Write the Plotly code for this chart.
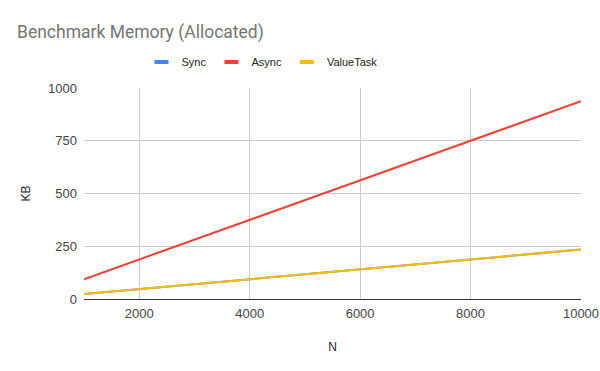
import plotly.graph_objects as go

n_values = [1000, 2000, 3000, 4000, 5000, 6000, 7000, 8000, 9000, 10000]
sync_kb = [23.44, 46.88, 70.31, 93.75, 117.19, 140.63, 164.06, 187.5, 210.94, 234.38]
async_kb = [93.75, 187.5, 281.25, 375.0, 468.75, 562.5, 656.25, 750.0, 843.75, 937.5]
valuetask_kb = [23.44, 46.88, 70.31, 93.75, 117.19, 140.63, 164.06, 187.5, 210.94, 234.38]
x_ticks = [2000, 4000, 6000, 8000, 10000]
x_tick_labels = ["2000", "4000", "6000", "8000", "10000"]
y_ticks = [0, 250, 500, 750, 1000]

series = [("Sync", sync_kb, "#4285F4"), ("Async", async_kb, "#EA4335"), ("ValueTask", valuetask_kb, "#FBBC04")]

fig = go.Figure()
for name, vals, col in series:
    fig.add_trace(go.Scatter(x=n_values, y=vals, mode="lines", name=name,
                             line=dict(color=col, width=2), showlegend=False))
for name, vals, col in series:
    fig.add_trace(go.Scatter(x=[None], y=[None], mode="markers", name=name,
                             marker=dict(symbol="line-ew", size=10, color=col,
                                         line=dict(color=col, width=4)),
                             showlegend=True))

fig.update_layout(
    width=600, height=371,
    margin=dict(l=84, r=19, t=88, b=72),
    paper_bgcolor="white", plot_bgcolor="white",
    title=dict(text="Benchmark Memory (Allocated)", x=17/600, xanchor="left",
               y=1 - 32/371, yanchor="middle",
               font=dict(family="Roboto", size=17.5, color="#757575")),
    legend=dict(orientation="h", x=(262 - 84) / 497, xanchor="center", y=1 + 26/211, yanchor="middle",
                font=dict(family="Liberation Sans", size=11, color="#222222"),
                itemwidth=30, tracegroupgap=0),
    font=dict(family="Liberation Sans", size=13, color="#444444"),
    xaxis=dict(range=[1000, 10000], tickvals=x_ticks, ticktext=x_tick_labels,
               showgrid=True, gridcolor="#cccccc", gridwidth=1, zeroline=False,
               showline=False, ticks="", ticklabelstandoff=5, automargin=False,
               tickfont=dict(family="Liberation Sans", size=13, color="#444444"),
               title=dict(text="N", font=dict(family="Liberation Sans", size=12, color="#222222"), standoff=22)),
    yaxis=dict(range=[0, 1000], tickvals=y_ticks,
               showgrid=True, gridcolor="#cccccc", gridwidth=1,
               zeroline=True, zerolinecolor="#333333", zerolinewidth=1,
               showline=False, ticks="", ticklabelstandoff=6, automargin=False,
               tickfont=dict(family="Liberation Sans", size=13, color="#444444"),
               title=dict(text="KB", font=dict(family="Liberation Sans", size=12, color="#222222"), standoff=14)),
)

fig.write_html("out.html")
